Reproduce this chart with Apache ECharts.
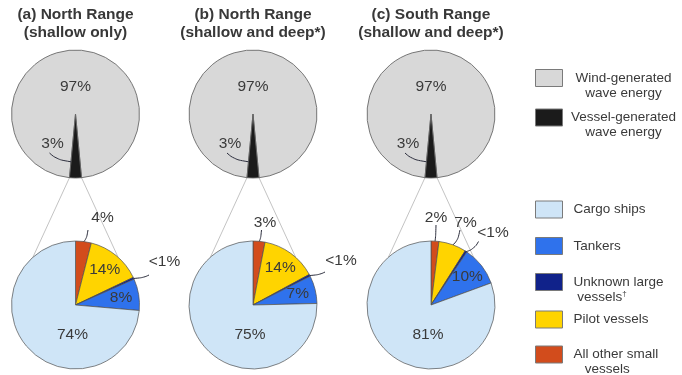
<!DOCTYPE html>
<html>
<head>
<meta charset="utf-8">
<script src="https://cdn.jsdelivr.net/npm/echarts@6/dist/echarts.min.js"></script>
<style>
  html, body { margin: 0; padding: 0; background: #ffffff; }
  #chart { width: 682px; height: 375px; }
</style>
</head>
<body>
<div id="chart"></div>
<script>
// ---- data -------------------------------------------------------------
const panelTitles = [
  '(a) North Range\n(shallow only)',
  '(b) North Range\n(shallow and deep*)',
  '(c) South Range\n(shallow and deep*)'
];

// Share of total wave energy (%)
const energySources = ['Wind-generated wave energy', 'Vessel-generated wave energy'];
const windShare = [97, 97, 97];
const vesselShare = [3, 3, 3];

// Share of vessel-generated wave energy by vessel class (%); 0.5 is shown as "<1%"
const vesselClasses = ['Cargo ships', 'Tankers', 'Unknown large vessels\u2020', 'Pilot vessels', 'All other small vessels'];
const cargoShips = [74, 75, 81];
const tankers = [8, 7, 10];
const unknownLarge = [0.5, 0.5, 0.5];
const pilotVessels = [14, 14, 7];
const otherSmall = [4, 3, 2];

// ---- layout & style ---------------------------------------------------
const FONT = '"Liberation Sans", Arial, Helvetica, sans-serif';
const TEXT = '#3a3a3a';
const centersX = [75.5, 253, 431];
const topY = 114;
const botY = 305;
const R = 64;

const energyColors = ['#d8d8d8', '#1b1b1b'];
const classColors = {
  'Cargo ships': '#cfe5f7',
  'Tankers': '#2f72ec',
  'Unknown large vessels\u2020': '#10228a',
  'Pilot vessels': '#ffd400',
  'All other small vessels': '#d24c1c'
};
// slices run clockwise from 12 o'clock in this order
const drawOrder = ['All other small vessels', 'Pilot vessels', 'Unknown large vessels\u2020', 'Tankers', 'Cargo ships'];

// labels placed outside the lower pies: label centre and leader start, relative to pie centre
const outsideLabels = [
  { 'All other small vessels': { at: [27, -87.5], from: [12.5, -75] },
    'Unknown large vessels\u2020': { at: [89, -43.5], from: [73.5, -30] } },
  { 'All other small vessels': { at: [12, -82.5], from: [8.5, -75] },
    'Unknown large vessels\u2020': { at: [88, -44], from: [72, -33] } },
  { 'All other small vessels': { at: [5, -87.5], from: [5, -80] },
    'Pilot vessels': { at: [34.5, -82.5], from: [29, -75] },
    'Unknown large vessels\u2020': { at: [62, -72.5], from: [47.5, -63.5] } }
];

const pct = v => (v < 1 ? '<1%' : v + '%');

function classValue(name, p) {
  const i = vesselClasses.indexOf(name);
  return [cargoShips, tankers, unknownLarge, pilotVessels, otherSmall][i][p];
}

// compass angle (deg, clockwise from north) -> pixel point
function polar(cx, cy, r, deg) {
  const t = deg * Math.PI / 180;
  return [cx + r * Math.sin(t), cy - r * Math.cos(t)];
}

function sliceAngles(values, start) {
  const total = values.reduce((a, b) => a + b, 0);
  let acc = start;
  return values.map(v => {
    const a0 = acc;
    acc += v / total * 360;
    return { a0: a0, a1: acc, mid: (a0 + acc) / 2 };
  });
}

function curve(s, e) {
  const m = [s[0] + (e[0] - s[0]) * 0.33, s[1] + (e[1] - s[1]) * 0.72];
  return [s, m, e];
}

const labelBase = {
  formatter: p => pct(p.value),
  fontSize: 15.5,
  color: TEXT,
  fontFamily: FONT
};
const leaderStyle = { smooth: 0.45, lineStyle: { color: '#2b2d3c', width: 1 } };

const series = [];
const graphics = [];

centersX.forEach((cx, i) => {
  // --- upper pie: wind vs vessel wave energy, vessel wedge centred at 6 o'clock
  const eVals = [windShare[i], vesselShare[i]];
  const eTotal = eVals[0] + eVals[1];
  const half = eVals[1] / eTotal * 180;
  const windStart = 180 + half;          // wind runs clockwise from the wedge's left edge
  const upperBase = {
    type: 'pie',
    center: [cx, topY],
    radius: R,
    startAngle: (90 - windStart + 720) % 360,
    clockwise: true,
    silent: true,
    avoidLabelOverlap: false,
    label: labelBase,
    labelLine: leaderStyle
  };
  series.push(Object.assign({}, upperBase, {
    itemStyle: { borderColor: '#6a6a6a', borderWidth: 0.9 },
    data: [
      { name: energySources[0], value: eVals[0], itemStyle: { color: energyColors[0] },
        label: { position: 'inside' }, labelLine: { show: false } },
      { name: energySources[1], value: eVals[1], itemStyle: { color: energyColors[1] },
        label: { show: false }, labelLine: { show: false } }
    ],
    labelLayout: p => (p.dataIndex === 0
      ? { x: cx, y: topY - 27, align: 'center', verticalAlign: 'middle' }
      : {})
  }));
  // the vessel share label sits over the wind sector, so it goes on a clear layer above
  series.push(Object.assign({}, upperBase, {
    z: 3,
    itemStyle: { color: 'rgba(0,0,0,0)', borderWidth: 0 },
    data: [
      { name: energySources[0], value: eVals[0], label: { show: false }, labelLine: { show: false } },
      { name: energySources[1], value: eVals[1], label: { position: 'outside' }, labelLine: { show: true } }
    ],
    labelLayout: p => {
      if (p.dataIndex === 0) return {};
      const s = [cx - 26, topY + 39];
      const e = polar(cx, topY, 48, 180 + half);
      return { x: cx - 23, y: topY + 30, align: 'center', verticalAlign: 'middle',
               labelLinePoints: curve(s, e) };
    }
  }));

  // zoom connectors from the wedge's outer corners down to the lower pie
  [-1, 1].forEach(side => {
    const P = polar(cx, topY, R, 180 - side * half);
    const spread = 0.46;
    const ux = side * spread / Math.hypot(spread, 1), uy = 1 / Math.hypot(spread, 1);
    const px = P[0] - cx, py = P[1] - botY;
    const b = px * ux + py * uy;
    const c = px * px + py * py - R * R;
    const disc = b * b - c;
    const t = disc > 0 ? -b - Math.sqrt(disc) : -b;
    graphics.push({
      type: 'line', z: 0, silent: true,
      shape: { x1: P[0], y1: P[1], x2: P[0] + ux * t, y2: P[1] + uy * t },
      style: { stroke: '#b4b4b4', lineWidth: 0.8 }
    });
  });

  // --- lower pie: vessel classes
  const vals = drawOrder.map(n => classValue(n, i));
  const angles = sliceAngles(vals, 0);
  const outs = outsideLabels[i];
  series.push({
    type: 'pie',
    center: [cx, botY],
    radius: R,
    startAngle: 90,
    clockwise: true,
    silent: true,
    avoidLabelOverlap: false,
    itemStyle: { borderColor: '#505050', borderWidth: 0.7 },
    label: labelBase,
    labelLine: leaderStyle,
    data: drawOrder.map((n, k) => ({
      name: n,
      value: vals[k],
      itemStyle: { color: classColors[n] },
      label: { position: outs[n] ? 'outside' : 'inside' },
      labelLine: { show: !!outs[n] }
    })),
    labelLayout: p => {
      const n = drawOrder[p.dataIndex];
      const a = angles[p.dataIndex];
      const o = outs[n];
      if (o) {
        const s = [cx + o.from[0], botY + o.from[1]];
        const e = polar(cx, botY, R - 0.5, a.mid);
        return { x: cx + o.at[0], y: botY + o.at[1], align: 'center', verticalAlign: 'middle',
                 labelLinePoints: curve(s, e) };
      }
      if (n === 'Cargo ships') {
        return { x: cx - 3, y: botY + 30, align: 'center', verticalAlign: 'middle' };
      }
      const q = polar(cx, botY, R * 0.72, a.mid);
      return { x: q[0], y: q[1], align: 'center', verticalAlign: 'middle' };
    }
  });
});

// ---- legends ----------------------------------------------------------
const legendText = {
  'Wind-generated wave energy': '{c|Wind-generated}\n{c|wave energy}',
  'Vessel-generated wave energy': '{c|Vessel-generated}\n{c|wave energy}',
  'Cargo ships': 'Cargo ships',
  'Tankers': 'Tankers',
  'Unknown large vessels\u2020': 'Unknown large\n vessels{d|\u2020}',
  'Pilot vessels': 'Pilot vessels',
  'All other small vessels': 'All other small\n   vessels'
};
const legendRows = [
  { name: energySources[0], y: 78.5, fill: energyColors[0] },
  { name: energySources[1], y: 118, fill: energyColors[1] },
  { name: vesselClasses[0], y: 209 },
  { name: vesselClasses[1], y: 245.5 },
  { name: vesselClasses[2], y: 282.5 },
  { name: vesselClasses[3], y: 319 },
  { name: vesselClasses[4], y: 355 }
];
const legends = legendRows.map(row => {
  const twoLines = legendText[row.name].indexOf('\n') >= 0;
  return {
    data: [row.name],
    left: 535,
    top: row.y - (twoLines ? 23 : 8.5),
    padding: 0,
    itemWidth: 27,
    itemHeight: 17,
    icon: 'rect',
    selectedMode: false,
    itemStyle: { color: row.fill || classColors[row.name], borderColor: '#7a7a7a', borderWidth: 1 },
    formatter: n => legendText[n],
    textStyle: {
      fontFamily: FONT,
      fontSize: 13.5,
      lineHeight: 15,
      color: TEXT,
      padding: [twoLines ? 15 : 0, 0, 0, 6],
      rich: {
        c: { width: 100, align: 'center', fontFamily: FONT, fontSize: 13.5, lineHeight: 15, color: TEXT },
        d: { fontFamily: FONT, fontSize: 8, lineHeight: 15, color: TEXT, verticalAlign: 'top', padding: [0, 0, 6, 0] }
      }
    }
  };
});

const chart = echarts.init(document.getElementById('chart'), null, { renderer: 'canvas' });
chart.setOption({
  animation: false,
  backgroundColor: '#ffffff',
  title: panelTitles.map((t, i) => ({
    text: t,
    left: centersX[i],
    top: 6,
    textAlign: 'center',
    padding: 0,
    textStyle: { fontFamily: FONT, fontSize: 15.5, fontWeight: 'bold', color: '#383838', lineHeight: 18 }
  })),
  legend: legends,
  graphic: graphics,
  series: series
});
</script>
</body>
</html>
